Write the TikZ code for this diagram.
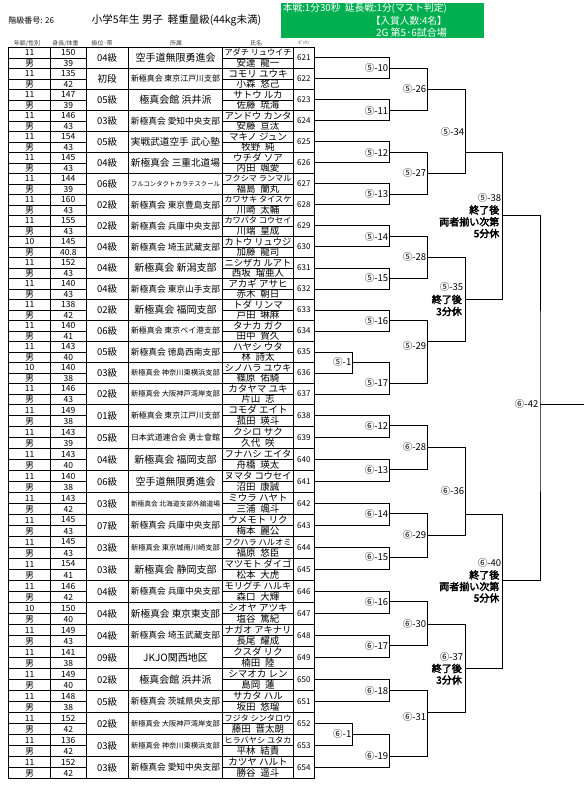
\documentclass[tikz,border=0pt]{standalone}
\usepackage{fontspec}
\usepackage{graphicx}
\setmainfont{Noto Sans CJK JP}
\newfontfamily\hvfont{Noto Sans CJK JP}[FakeBold=3]
\newsavebox\fitbox
\newcommand\fitw[3]{\sbox\fitbox{\fontsize{#2}{#2}\selectfont #3}\ifdim\wd\fitbox>#1\relax\resizebox{#1}{!}{\usebox\fitbox}\else\usebox\fitbox\fi}
\newcommand\ngap{\hspace{0.5em}}
\definecolor{hgreen}{HTML}{00B050}
\tikzset{
 tline/.style={line width=0.7pt},
 midl/.style={line width=0.6pt},
 br/.style={line width=0.8pt},
 numt/.style={inner sep=0pt, font=\fontsize{8.5}{8.5}\selectfont},
 grd/.style={inner sep=0pt, font=\fontsize{9.5}{9.5}\selectfont},
 cellt/.style={inner sep=0pt},
 zk/.style={inner sep=0pt, minimum width=21pt, font=\fontsize{8}{8}\selectfont},
 hd/.style={inner sep=0pt, text=black!75, font=\fontsize{6}{6}\selectfont},
 lb/.style={inner sep=0pt, anchor=east, font=\fontsize{9.5}{9.5}\selectfont},
 hvl/.style={inner sep=0pt, anchor=east, font=\hvfont\fontsize{10}{10}\selectfont},
 gtx/.style={inner sep=0pt, anchor=east, text=white},
}
\newcommand\tentry[8]{%
 \pgfmathsetmacro\ek{#1-620}%
 \pgfmathsetmacro\yt{\ek<18 ? 47.3+21.01*(\ek-1) : 404.5+22*(\ek-18)}%
 \pgfmathsetmacro\hh{\ek<18 ? 21.01 : 22}%
 \pgfmathsetmacro\ya{\yt+\hh/4}%
 \pgfmathsetmacro\yb{\yt+3*\hh/4}%
 \pgfmathsetmacro\ym{\yt+\hh/2}%
 \pgfmathsetmacro\ye{\yt+\hh}%
 \node[numt] (age#1) at (29.5,\ya) {#2};
 \node[numt] (sex#1) at (29.5,\yb) {男};
 \node[numt] (ht#1) at (68.3,\ya) {#3};
 \node[numt] (wt#1) at (68.3,\yb) {#4};
 \node[grd] (gr#1) at (107.2,\ym) {#5};
 \node[cellt] (af#1) at (175.5,\ym) {\fitw{89pt}{10}{#6}};
 \node[cellt] (kn#1) at (258,\ya) {\fitw{67pt}{9.5}{#7}};
 \node[cellt] (kj#1) at (258,\yb) {\fitw{67pt}{9.5}{#8}};
 \node[zk] (z#1) at (303.8,\ym) {#1};
 \draw[tline] (8.3,\ye) -- (314.3,\ye);
 \draw[midl] (8.3,\ym) -- (86,\ym) (222.7,\ym) -- (293.3,\ym);
}
\begin{document}
\begin{tikzpicture}[x=1pt,y=-1pt]
\fill[white] (0,0) rectangle (584,787);
\useasboundingbox (0,0) rectangle (584,787);
% header
\node[inner sep=0pt, anchor=west, font=\fontsize{8}{8}\selectfont] (cls) at (8.3,20) {階級番号: 26};
\node[inner sep=0pt, anchor=west, font=\fontsize{10.5}{10.5}\selectfont] (title) at (91.7,20) {小学5年生 男子\ \ 軽重量級(44kg未満)};
\fill[hgreen] (281,3.3) rectangle (484,37.7);
\node[gtx, font=\fontsize{9.7}{9.7}\selectfont] (g1) at (447,8.3) {本戦:1分30秒\ \ 延長戦:1分(マスト判定)};
\node[gtx, font=\fontsize{9.7}{9.7}\selectfont] (g2) at (447,20.7) {【入賞人数:4名】};
\node[gtx, font=\fontsize{10}{10}\selectfont] (g3) at (447,32.3) {2G 第5･6試合場};
% column headers
\node[hd] (h1) at (27,43.5) {年齢/性別};
\node[hd] (h2) at (65.5,43.5) {身長/体重};
\node[hd] (h3) at (102,43.5) {級位･帯};
\node[hd] (h4) at (176,43.5) {所属};
\node[hd] (h5) at (256,43.5) {氏名};
\node[hd, font=\fontsize{4.5}{4.5}\selectfont] (h6) at (304,43) {ｾﾞｯｹﾝ};
% table frame
\draw[tline] (8.3,47.3) -- (314.3,47.3);
\foreach \xx in {8.3,50.7,86,128.3,222.7,293.3,314.3} {\draw[tline] (\xx,47.3) -- (\xx,778.5);}
\tentry{621}{11}{150}{39}{04級}{空手道無限勇進会}{アダチ リュウイチ}{安達\ngap 龍一}
\tentry{622}{11}{135}{42}{初段}{新極真会 東京江戸川支部}{コモリ ユウキ}{小森\ngap 悠己}
\tentry{623}{11}{147}{39}{05級}{極真会館 浜井派}{サトウ ルカ}{佐藤\ngap 琉海}
\tentry{624}{11}{146}{43}{03級}{新極真会 愛知中央支部}{アンドウ カンタ}{安藤\ngap 亘汰}
\tentry{625}{11}{154}{43}{05級}{実戦武道空手 武心塾}{マキノ ジュン}{牧野\ngap 純}
\tentry{626}{11}{145}{43}{04級}{新極真会 三重北道場}{ウチダ ソア}{内田\ngap 颯愛}
\tentry{627}{11}{144}{39}{06級}{フルコンタクトカラテスクール}{フクシマ ランマル}{福島\ngap 蘭丸}
\tentry{628}{11}{160}{43}{02級}{新極真会 東京豊島支部}{カワサキ タイスケ}{川崎\ngap 太輔}
\tentry{629}{11}{155}{43}{02級}{新極真会 兵庫中央支部}{カワバタ コウセイ}{川端\ngap 皇成}
\tentry{630}{10}{145}{40.8}{04級}{新極真会 埼玉武蔵支部}{カトウ リュウジ}{加藤\ngap 龍司}
\tentry{631}{11}{152}{43}{04級}{新極真会 新潟支部}{ニシザカ ルアト}{西坂\ngap 瑠亜人}
\tentry{632}{11}{140}{43}{04級}{新極真会 東京山手支部}{アカギ アサヒ}{赤木\ngap 朝日}
\tentry{633}{11}{138}{42}{02級}{新極真会 福岡支部}{トダ リンマ}{戸田\ngap 琳麻}
\tentry{634}{11}{140}{41}{06級}{新極真会 東京ベイ港支部}{タナカ ガク}{田中\ngap 賀久}
\tentry{635}{11}{143}{40}{05級}{新極真会 徳島西南支部}{ハヤシ ウタ}{林\ngap 詩太}
\tentry{636}{10}{140}{38}{03級}{新極真会 神奈川東横浜支部}{シノハラ ユウキ}{篠原\ngap 佑騎}
\tentry{637}{11}{146}{43}{02級}{新極真会 大阪神戸湾岸支部}{カタヤマ ユキ}{片山\ngap 志}
\tentry{638}{11}{149}{38}{01級}{新極真会 東京江戸川支部}{コモダ エイト}{菰田\ngap 瑛斗}
\tentry{639}{11}{143}{39}{05級}{日本武道連合会 勇士會館}{クシロ サク}{久代\ngap 咲}
\tentry{640}{11}{143}{40}{04級}{新極真会 福岡支部}{フナハシ エイタ}{舟橋\ngap 瑛太}
\tentry{641}{11}{140}{38}{06級}{空手道無限勇進会}{ヌマタ コウセイ}{沼田\ngap 康誠}
\tentry{642}{11}{143}{42}{03級}{新極真会 北海道支部外舘道場}{ミウラ ハヤト}{三浦\ngap 颯斗}
\tentry{643}{11}{145}{43}{07級}{新極真会 兵庫中央支部}{ウメモト リク}{梅本\ngap 麗公}
\tentry{644}{11}{145}{43}{03級}{新極真会 東京城南川崎支部}{フクハラ ハルオミ}{福原\ngap 悠臣}
\tentry{645}{11}{154}{41}{03級}{新極真会 静岡支部}{マツモト ダイゴ}{松本\ngap 大虎}
\tentry{646}{11}{146}{42}{04級}{新極真会 兵庫中央支部}{モリグチ ハルキ}{森口\ngap 大輝}
\tentry{647}{10}{150}{40}{04級}{新極真会 東京東支部}{シオヤ アツキ}{塩谷\ngap 篤紀}
\tentry{648}{11}{149}{43}{04級}{新極真会 埼玉武蔵支部}{ナガオ アキナリ}{長尾\ngap 耀成}
\tentry{649}{11}{141}{38}{09級}{JKJO関西地区}{クスダ リク}{楠田\ngap 陸}
\tentry{650}{11}{149}{40}{02級}{極真会館 浜井派}{シマオカ レン}{島岡\ngap 蓮}
\tentry{651}{11}{148}{38}{05級}{新極真会 茨城県央支部}{サカタ ハル}{坂田\ngap 悠瑠}
\tentry{652}{11}{152}{42}{02級}{新極真会 大阪神戸湾岸支部}{フジタ シンタロウ}{藤田\ngap 晋太朗}
\tentry{653}{11}{136}{42}{03級}{新極真会 神奈川東横浜支部}{ヒラバヤシ ユタカ}{平林\ngap 結貴}
\tentry{654}{11}{152}{42}{03級}{新極真会 愛知中央支部}{カツヤ ハルト}{勝谷\ngap 遥斗}
% match points
\coordinate (p5-1) at (352.7,362.3);
\coordinate (m5-10) at (389.3,68.3);
\coordinate (m5-11) at (389.3,110.7);
\coordinate (m5-12) at (389.3,152.7);
\coordinate (m5-13) at (389.3,194.3);
\coordinate (m5-14) at (389.3,236.7);
\coordinate (m5-15) at (389.3,278.3);
\coordinate (m5-16) at (389.3,320.7);
\coordinate (m5-17) at (389.3,383.3);
\coordinate (m5-26) at (427.3,89.3);
\coordinate (m5-27) at (427.3,173.3);
\coordinate (m5-28) at (427.3,257.3);
\coordinate (m5-29) at (427.3,341.7);
\coordinate (m5-34) at (465.3,152.7);
\coordinate (m5-35) at (465.3,299);
\coordinate (m5-38) at (502.7,215);
\coordinate (m6-12) at (389.3,425.7);
\coordinate (m6-13) at (389.3,469.5);
\coordinate (m6-14) at (389.3,513.5);
\coordinate (m6-15) at (389.3,557.3);
\coordinate (m6-16) at (389.3,601.7);
\coordinate (m6-17) at (389.3,645.8);
\coordinate (m6-18) at (389.3,690.5);
\coordinate (p6-1) at (352.7,734);
\coordinate (m6-19) at (389.3,756.3);
\coordinate (m6-28) at (427.3,447.3);
\coordinate (m6-29) at (427.3,535.3);
\coordinate (m6-30) at (427.3,624);
\coordinate (m6-31) at (427.3,712.3);
\coordinate (m6-36) at (465.3,514.3);
\coordinate (m6-37) at (465.3,668);
\coordinate (m6-40) at (502.7,580);
\coordinate (m6-42) at (540,404);
\coordinate (fin) at (584,404);
% bracket lines
\draw[br] (z621.east) -| (m5-10) |- (z622.east);
\draw[br] (z623.east) -| (m5-11) |- (z624.east);
\draw[br] (z625.east) -| (m5-12) |- (z626.east);
\draw[br] (z627.east) -| (m5-13) |- (z628.east);
\draw[br] (z629.east) -| (m5-14) |- (z630.east);
\draw[br] (z631.east) -| (m5-15) |- (z632.east);
\draw[br] (z633.east) -| (m5-16) |- (z634.east);
\draw[br] (z635.east) -| (p5-1) |- (z636.east);
\draw[br] (p5-1) -| (m5-17) |- (z637.east);
\draw[br] (m5-10) -| (m5-26) |- (m5-11);
\draw[br] (m5-12) -| (m5-27) |- (m5-13);
\draw[br] (m5-14) -| (m5-28) |- (m5-15);
\draw[br] (m5-16) -| (m5-29) |- (m5-17);
\draw[br] (m5-26) -| (m5-34) |- (m5-27);
\draw[br] (m5-28) -| (m5-35) |- (m5-29);
\draw[br] (m5-34) -| (m5-38) |- (m5-35);
\draw[br] (z638.east) -| (m6-12) |- (z639.east);
\draw[br] (z640.east) -| (m6-13) |- (z641.east);
\draw[br] (z642.east) -| (m6-14) |- (z643.east);
\draw[br] (z644.east) -| (m6-15) |- (z645.east);
\draw[br] (z646.east) -| (m6-16) |- (z647.east);
\draw[br] (z648.east) -| (m6-17) |- (z649.east);
\draw[br] (z650.east) -| (m6-18) |- (z651.east);
\draw[br] (z652.east) -| (p6-1) |- (z653.east);
\draw[br] (p6-1) -| (m6-19) |- (z654.east);
\draw[br] (m6-12) -| (m6-28) |- (m6-13);
\draw[br] (m6-14) -| (m6-29) |- (m6-15);
\draw[br] (m6-16) -| (m6-30) |- (m6-17);
\draw[br] (m6-18) -| (m6-31) |- (m6-19);
\draw[br] (m6-28) -| (m6-36) |- (m6-29);
\draw[br] (m6-30) -| (m6-37) |- (m6-31);
\draw[br] (m6-36) -| (m6-40) |- (m6-37);
\draw[br] (m5-38) -| (m6-42) |- (m6-40);
\draw[br] (m6-42) -- (fin);
% match labels
\node[lb] (l5-10) at (388.3,68.3) {⑤-10};
\node[lb] (l5-11) at (388.3,110.7) {⑤-11};
\node[lb] (l5-12) at (388.3,152.7) {⑤-12};
\node[lb] (l5-13) at (388.3,194.3) {⑤-13};
\node[lb] (l5-14) at (388.3,236.7) {⑤-14};
\node[lb] (l5-15) at (388.3,278.3) {⑤-15};
\node[lb] (l5-16) at (388.3,320.7) {⑤-16};
\node[lb] (l5-17) at (388.3,383.3) {⑤-17};
\node[lb] (l5-1) at (351.5,362.3) {⑤-1};
\node[lb] (l5-26) at (426.3,89.3) {⑤-26};
\node[lb] (l5-27) at (426.3,173.3) {⑤-27};
\node[lb] (l5-28) at (426.3,257.3) {⑤-28};
\node[lb] (l5-29) at (426.3,346.3) {⑤-29};
\node[lb] (l5-34) at (464.3,131.7) {⑤-34};
\node[lb] (l5-35) at (463.3,287.3) {⑤-35};
\node[hvl] (l5-35a) at (462,299.5) {終了後};
\node[hvl] (l5-35b) at (462,311.5) {3分休};
\node[lb] (l5-38) at (501.3,198) {⑤-38};
\node[hvl] (l5-38a) at (499.5,210) {終了後};
\node[hvl] (l5-38b) at (499.5,221.8) {両者揃い次第};
\node[hvl] (l5-38c) at (499.5,233.5) {5分休};
\node[lb] (l6-12) at (388.3,425.7) {⑥-12};
\node[lb] (l6-13) at (388.3,469.5) {⑥-13};
\node[lb] (l6-14) at (388.3,513.5) {⑥-14};
\node[lb] (l6-15) at (388.3,557.3) {⑥-15};
\node[lb] (l6-16) at (388.3,601.7) {⑥-16};
\node[lb] (l6-17) at (388.3,645.8) {⑥-17};
\node[lb] (l6-18) at (388.3,690.5) {⑥-18};
\node[lb] (l6-19) at (388.3,756.3) {⑥-19};
\node[lb] (l6-1) at (351.5,734) {⑥-1};
\node[lb] (l6-28) at (426.3,447.3) {⑥-28};
\node[lb] (l6-29) at (426.3,535.3) {⑥-29};
\node[lb] (l6-30) at (426.3,624) {⑥-30};
\node[lb] (l6-31) at (426.3,717.3) {⑥-31};
\node[lb] (l6-36) at (464.3,491.3) {⑥-36};
\node[lb] (l6-37) at (463.3,656.7) {⑥-37};
\node[hvl] (l6-37a) at (462,668.5) {終了後};
\node[hvl] (l6-37b) at (462,680) {3分休};
\node[lb] (l6-40) at (501.3,563.3) {⑥-40};
\node[hvl] (l6-40a) at (499.5,575) {終了後};
\node[hvl] (l6-40b) at (499.5,586.5) {両者揃い次第};
\node[hvl] (l6-40c) at (499.5,598) {5分休};
\node[lb] (l6-42) at (538.5,404) {⑥-42};
\end{tikzpicture}
\end{document}
